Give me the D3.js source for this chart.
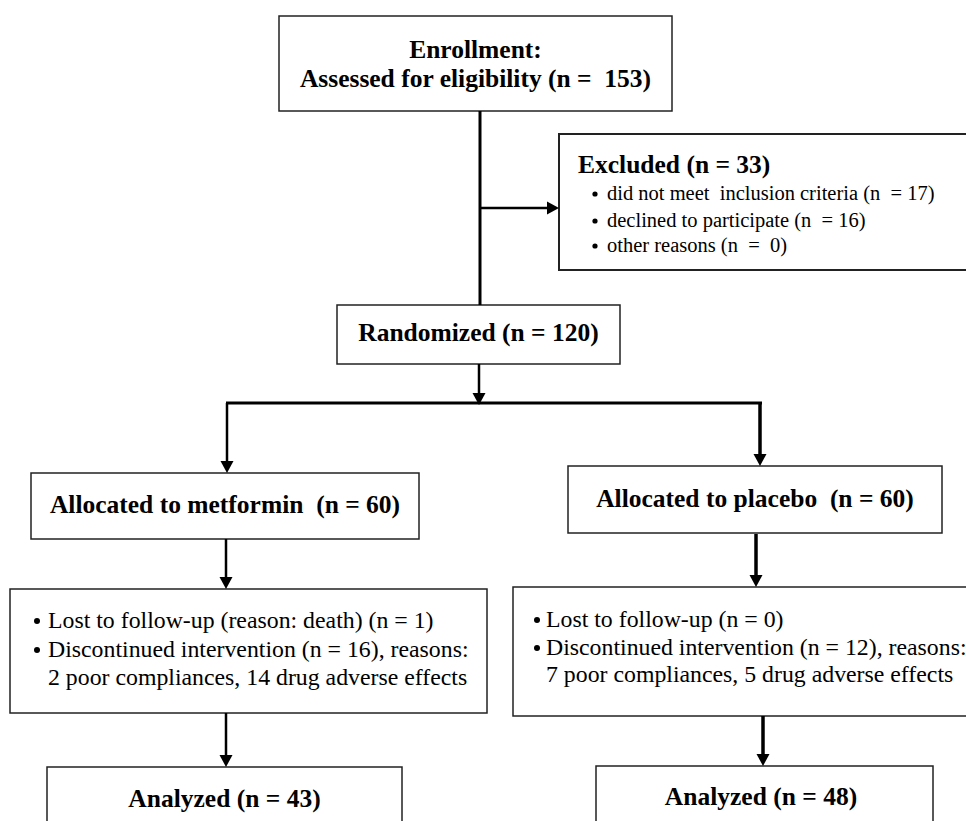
<!DOCTYPE html>
<html>
<head>
<meta charset="utf-8">
<script src="https://cdn.jsdelivr.net/npm/d3@7"></script>
<style>
  html, body { margin: 0; padding: 0; background: #fff; }
  svg { display: block; }
  text { font-family: "Liberation Serif", "Times New Roman", serif; fill: #000; }
</style>
</head>
<body>
<svg width="966" height="821"></svg>
<script>
// flow counts and labels
var enrollmentLines = ["Enrollment:", "Assessed for eligibility (n =  153)"];
var excludedTitle = "Excluded (n = 33)";
var excludedReasons = [
  "did not meet  inclusion criteria (n  = 17)",
  "declined to participate (n  = 16)",
  "other reasons (n  =  0)"
];
var randomizedLabel = "Randomized (n = 120)";
var allocatedLabels = ["Allocated to metformin  (n = 60)", "Allocated to placebo  (n = 60)"];
var followUpMetformin = [
  "Lost to follow-up (reason: death) (n = 1)",
  "Discontinued intervention (n = 16), reasons:",
  "2 poor compliances, 14 drug adverse effects"
];
var followUpPlacebo = [
  "Lost to follow-up (n = 0)",
  "Discontinued intervention (n = 12), reasons:",
  "7 poor compliances, 5 drug adverse effects"
];
var bulletFlags = [true, true, false];
var analyzedLabels = ["Analyzed (n = 43)", "Analyzed (n = 48)"];

// layout (pixels)
var box = {
  enroll:   {x: 279, y: 16,  w: 393, h: 95,  sw: 1.5},
  excluded: {x: 559, y: 134, w: 430, h: 136, sw: 2},
  random:   {x: 337, y: 305, w: 283, h: 59,  sw: 1.5},
  allocM:   {x: 31,  y: 473, w: 388, h: 66,  sw: 1.5},
  allocP:   {x: 568, y: 466, w: 374, h: 67,  sw: 1.5},
  lostM:    {x: 10,  y: 589, w: 477, h: 124, sw: 1.5},
  lostP:    {x: 513, y: 587, w: 470, h: 129, sw: 1.5},
  anaM:     {x: 47,  y: 767, w: 355, h: 80,  sw: 1.5},
  anaP:     {x: 596, y: 766, w: 337, h: 80,  sw: 1.5}
};
var headSize = 25.5, reasonSize = 20.5, listSize = 23.8;

var svg = d3.select("svg");

svg.selectAll("rect.box")
    .data(Object.values(box))
  .enter().append("rect")
    .attr("class", "box")
    .attr("x", function(d) { return d.x; })
    .attr("y", function(d) { return d.y; })
    .attr("width", function(d) { return d.w; })
    .attr("height", function(d) { return d.h; })
    .attr("fill", "#fff")
    .attr("stroke", "#222")
    .attr("stroke-width", function(d) { return d.sw; });

// connectors: [x1, y1, x2, y2, width, arrow?]
var links = [
  [480, 111, 480, 305, 3, false],
  [480, 208, 559, 208, 2.5, true],
  [479, 364, 479, 405, 2.5, true],
  [226, 403, 762, 403, 3, false],
  [227, 403, 227, 473, 2.5, true],
  [760, 403, 760, 466, 3.5, true],
  [226, 539, 226, 589, 2.5, true],
  [756, 534, 756, 587, 3.5, true],
  [226, 713, 226, 767, 2.5, true],
  [763, 716, 763, 766, 3.5, true]
];
var head = 12;

links.forEach(function(l) {
  var x1 = l[0], y1 = l[1], x2 = l[2], y2 = l[3], arrow = l[5];
  var dx = x2 - x1, dy = y2 - y1, len = Math.sqrt(dx * dx + dy * dy);
  var ux = dx / len, uy = dy / len;
  var ex = arrow ? x2 - ux * head : x2, ey = arrow ? y2 - uy * head : y2;
  svg.append("line")
      .attr("x1", x1).attr("y1", y1)
      .attr("x2", ex).attr("y2", ey)
      .attr("stroke", "#000")
      .attr("stroke-width", l[4]);
  if (arrow) {
    var px = -uy * 6.5, py = ux * 6.5;
    svg.append("path")
        .attr("d", d3.line()([[x2, y2], [ex + px, ey + py], [ex - px, ey - py]]) + "Z")
        .attr("fill", "#000");
  }
});

function centered(b, lines, baselines) {
  svg.append("g").selectAll("text")
      .data(lines)
    .enter().append("text")
      .attr("x", b.x + b.w / 2)
      .attr("y", function(d, i) { return baselines[i]; })
      .attr("text-anchor", "middle")
      .attr("font-weight", "bold")
      .attr("font-size", headSize)
      .style("white-space", "pre")
      .text(function(d) { return d; });
}

centered(box.enroll, enrollmentLines, [58, 87]);
centered(box.random, [randomizedLabel], [341]);
centered({x: 31, w: 388}, [allocatedLabels[0]], [513]);
centered({x: 568, w: 374}, [allocatedLabels[1]], [507]);
centered({x: 47, w: 355}, [analyzedLabels[0]], [807]);
centered({x: 596, w: 330}, [analyzedLabels[1]], [805]);

// excluded box
svg.append("text")
    .attr("x", 578).attr("y", 173)
    .attr("font-weight", "bold").attr("font-size", headSize)
    .text(excludedTitle);

var reasonY = [200, 227, 252];
var exG = svg.append("g").selectAll("g")
    .data(excludedReasons)
  .enter().append("g");
exG.append("circle")
    .attr("cx", 595)
    .attr("cy", function(d, i) { return reasonY[i] - 6; })
    .attr("r", 2.6)
    .attr("fill", "#000");
exG.append("text")
    .attr("x", 607)
    .attr("y", function(d, i) { return reasonY[i]; })
    .attr("font-size", reasonSize)
    .style("white-space", "pre")
    .text(function(d) { return d; });

function bulletList(lines, bx, tx, baselines) {
  var g = svg.append("g").selectAll("g")
      .data(lines)
    .enter().append("g");
  g.filter(function(d, i) { return bulletFlags[i]; })
    .append("circle")
      .attr("cx", bx)
      .attr("cy", function(d) { return baselines[lines.indexOf(d)] - 7; })
      .attr("r", 3)
      .attr("fill", "#000");
  g.append("text")
      .attr("x", tx)
      .attr("y", function(d, i) { return baselines[i]; })
      .attr("font-size", listSize)
      .style("white-space", "pre")
      .text(function(d) { return d; });
}

bulletList(followUpMetformin, 37, 48, [628, 657, 685]);
bulletList(followUpPlacebo, 537, 546, [627, 655, 682]);
</script>
</body>
</html>
